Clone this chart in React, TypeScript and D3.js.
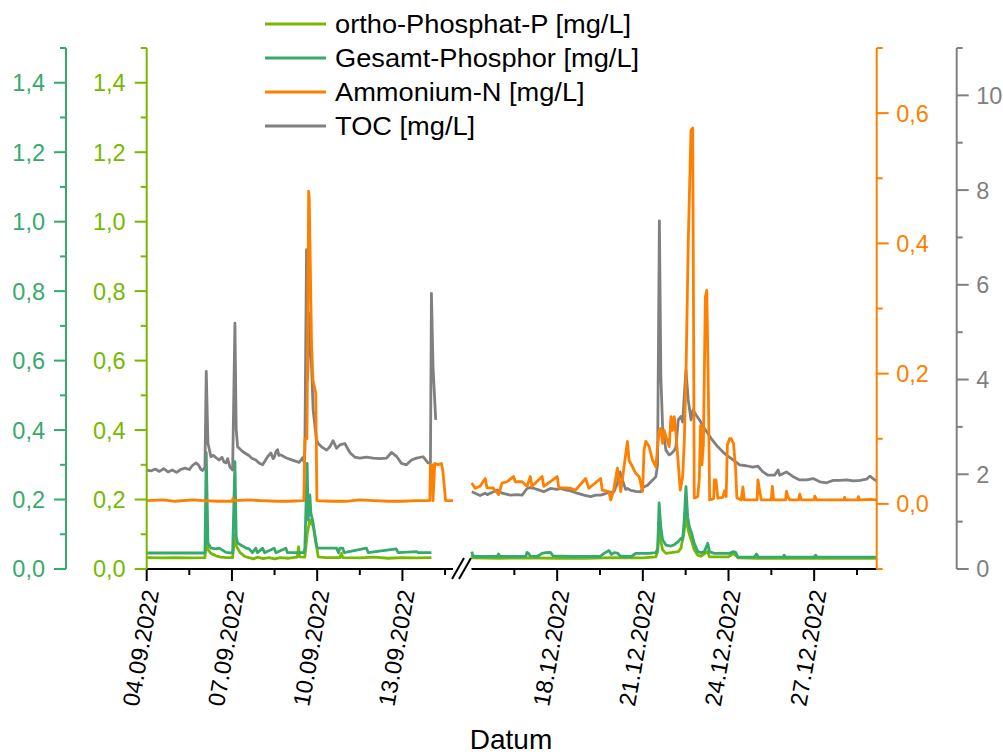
import React from "react";
import * as d3 from "d3";

// ---- Data (time = fractional day of month, 2022) ----
type P = [number, number];

const seriesNames = [
  "ortho-Phosphat-P [mg/L]",
  "Gesamt-Phosphor [mg/L]",
  "Ammonium-N [mg/L]",
  "TOC [mg/L]",
];
const seriesColors = ["#76b900", "#36aa6c", "#ff7f00", "#808080"];

// segment 1: September, segment 2: December
const segSep: P = [4.0, 14.78];
const segDec: P = [15.0, 29.19];
const majorSep = [4, 7, 10, 13];
const minorSep = [5.5, 8.5, 11.5, 14.5];
const majorDec = [18, 21, 24, 27];
const minorDec = [16.5, 19.5, 22.5, 25.5, 28.5];

const pTicks = [0, 0.2, 0.4, 0.6, 0.8, 1.0, 1.2, 1.4];
const pMinor = [0.1, 0.3, 0.5, 0.7, 0.9, 1.1, 1.3, 1.5];
const nTicks = [0, 0.2, 0.4, 0.6];
const nMinor = [-0.1, 0.1, 0.3, 0.5, 0.7];
const tTicks = [0, 2, 4, 6, 8, 10];
const tMinor = [1, 3, 5, 7, 9, 11];

const orthoSep: P[] = [[4.0,0.033],[4.5,0.032],[5.0,0.033],[5.5,0.032],[6.05,0.033],[6.096,0.09],[6.155,0.056],[6.26,0.045],[6.44,0.038],[6.6,0.034],[6.8,0.033],[7.024,0.033],[7.105,0.1],[7.16,0.065],[7.28,0.048],[7.45,0.036],[7.6,0.033],[7.75,0.029],[7.9,0.034],[8.1,0.03],[8.3,0.033],[8.5,0.029],[8.7,0.033],[9.0,0.031],[9.3,0.034],[9.345,0.064],[9.38,0.035],[9.566,0.034],[9.647,0.1],[9.742,0.141],[9.8,0.13],[9.858,0.125],[9.94,0.09],[10.034,0.035],[10.3,0.033],[10.8,0.033],[10.85,0.045],[10.9,0.033],[11.5,0.032],[12.0,0.034],[12.5,0.031],[13.0,0.033],[13.5,0.032],[14.021,0.033]];

const tealSep: P[] = [[4.0,0.046],[5.0,0.046],[6.05,0.046],[6.096,0.335],[6.155,0.075],[6.26,0.06],[6.437,0.058],[6.553,0.06],[6.65,0.055],[6.79,0.048],[7.024,0.046],[7.105,0.309],[7.15,0.093],[7.2,0.075],[7.375,0.066],[7.5,0.06],[7.608,0.058],[7.72,0.047],[7.84,0.06],[7.9,0.047],[8.08,0.06],[8.15,0.047],[8.487,0.06],[8.55,0.047],[8.898,0.06],[8.95,0.047],[9.531,0.047],[9.566,0.06],[9.647,0.304],[9.682,0.141],[9.742,0.213],[9.78,0.16],[9.858,0.132],[9.918,0.093],[9.977,0.064],[10.034,0.06],[10.68,0.06],[10.75,0.047],[10.8,0.06],[10.9,0.06],[10.95,0.047],[11.736,0.06],[11.8,0.047],[12.78,0.058],[12.85,0.047],[13.5,0.05],[13.55,0.047],[14.021,0.047]];

const nh4Sep: P[] = [[4.0,0.005],[4.6,0.006],[5.0,0.004],[5.6,0.006],[6.0,0.005],[6.5,0.004],[7.0,0.004],[7.034,0.008],[7.1,0.005],[7.6,0.006],[8.0,0.005],[8.6,0.004],[9.0,0.004],[9.531,0.005],[9.57,0.1],[9.64,0.1],[9.7,0.48],[9.72,0.47],[9.8,0.25],[9.85,0.19],[9.95,0.17],[9.99,0.005],[10.5,0.004],[11.0,0.004],[11.5,0.006],[12.0,0.005],[12.5,0.004],[13.0,0.004],[13.5,0.005],[13.965,0.005],[13.985,0.06],[14.05,0.06],[14.077,0.005],[14.137,0.062],[14.25,0.06],[14.373,0.062],[14.42,0.052],[14.52,0.005],[14.78,0.005]];

const tocSep: P[] = [[4.0,2.09],[4.15,2.07],[4.3,2.11],[4.45,2.06],[4.6,2.12],[4.75,2.05],[4.9,2.09],[5.05,2.04],[5.2,2.1],[5.35,2.13],[5.5,2.1],[5.6,2.18],[5.733,2.24],[5.82,2.2],[5.91,2.1],[5.97,2.08],[6.05,2.15],[6.096,4.17],[6.155,2.66],[6.26,2.37],[6.35,2.4],[6.437,2.35],[6.553,2.3],[6.65,2.36],[6.72,2.26],[6.79,2.24],[6.85,2.33],[6.93,2.15],[6.964,2.13],[7.024,2.09],[7.105,5.19],[7.15,2.95],[7.2,2.58],[7.375,2.48],[7.608,2.39],[7.7,2.34],[7.84,2.3],[7.95,2.24],[8.08,2.2],[8.255,2.37],[8.37,2.45],[8.45,2.33],[8.487,2.35],[8.55,2.48],[8.606,2.52],[8.65,2.4],[8.722,2.41],[8.898,2.35],[9.13,2.3],[9.366,2.25],[9.485,2.35],[9.531,2.27],[9.566,2.5],[9.626,6.74],[9.66,3.99],[9.742,5.4],[9.8,4.3],[9.858,3.36],[9.977,2.72],[10.034,2.65],[10.153,2.58],[10.33,2.51],[10.445,2.58],[10.56,2.71],[10.68,2.55],[10.797,2.62],[10.973,2.65],[11.149,2.46],[11.325,2.36],[11.5,2.34],[11.736,2.36],[11.968,2.34],[12.204,2.33],[12.44,2.34],[12.615,2.46],[12.79,2.38],[12.966,2.23],[13.142,2.2],[13.318,2.3],[13.494,2.34],[13.726,2.37],[13.9,2.24],[13.986,2.24],[14.021,5.82],[14.077,4.27],[14.172,3.15]];

const orthoDec: P[] = [[15.01,0.04],[15.05,0.032],[16.0,0.031],[17.0,0.032],[18.0,0.031],[19.0,0.031],[20.0,0.033],[21.0,0.032],[21.456,0.035],[21.52,0.05],[21.57,0.13],[21.63,0.08],[21.692,0.055],[21.808,0.045],[22.24,0.05],[22.335,0.06],[22.45,0.11],[22.51,0.16],[22.57,0.12],[22.627,0.1],[22.71,0.08],[22.8,0.055],[22.923,0.04],[23.04,0.037],[23.27,0.05],[23.33,0.035],[24.0,0.035],[24.174,0.045],[24.33,0.032],[25.0,0.031],[27.0,0.031],[29.19,0.031]];

const tealDec: P[] = [[15.01,0.05],[15.05,0.038],[15.13,0.036],[15.5,0.036],[15.9,0.036],[15.947,0.043],[16.0,0.036],[16.9,0.036],[16.945,0.048],[17.0,0.045],[17.06,0.037],[17.3,0.036],[17.473,0.045],[17.6,0.047],[17.764,0.048],[17.85,0.038],[18.5,0.036],[19.0,0.036],[19.5,0.036],[19.64,0.045],[19.814,0.053],[19.9,0.042],[20.0,0.047],[20.11,0.046],[20.2,0.038],[20.4,0.036],[20.6,0.036],[20.75,0.045],[20.9,0.045],[21.2,0.045],[21.456,0.047],[21.52,0.06],[21.57,0.19],[21.63,0.12],[21.692,0.084],[21.808,0.069],[21.984,0.066],[22.1,0.07],[22.24,0.079],[22.335,0.088],[22.395,0.085],[22.45,0.141],[22.51,0.237],[22.57,0.15],[22.627,0.122],[22.71,0.103],[22.8,0.074],[22.923,0.05],[23.04,0.047],[23.155,0.05],[23.274,0.074],[23.33,0.05],[23.5,0.045],[23.8,0.045],[24.034,0.045],[24.174,0.05],[24.25,0.048],[24.33,0.034],[24.6,0.034],[24.9,0.034],[24.98,0.043],[25.05,0.034],[25.9,0.034],[25.95,0.04],[26.0,0.034],[27.0,0.034],[27.05,0.04],[27.1,0.034],[29.19,0.034]];

const nh4Dec: P[] = [[15.01,0.032],[15.127,0.024],[15.3,0.027],[15.48,0.039],[15.54,0.025],[15.77,0.024],[15.947,0.014],[16.066,0.032],[16.24,0.034],[16.474,0.042],[16.534,0.034],[16.77,0.034],[16.945,0.027],[17.06,0.042],[17.12,0.027],[17.473,0.042],[17.53,0.027],[18.0,0.042],[18.056,0.025],[18.468,0.024],[18.643,0.021],[18.995,0.039],[19.11,0.024],[19.522,0.039],[19.58,0.021],[19.814,0.019],[19.874,0.006],[19.97,0.019],[20.11,0.055],[20.226,0.019],[20.46,0.096],[20.518,0.067],[20.637,0.057],[20.753,0.047],[20.87,0.042],[20.989,0.019],[21.045,0.083],[21.105,0.096],[21.22,0.088],[21.34,0.067],[21.456,0.057],[21.57,0.113],[21.632,0.116],[21.692,0.093],[21.748,0.113],[21.808,0.103],[21.924,0.088],[21.984,0.134],[22.04,0.113],[22.1,0.134],[22.16,0.108],[22.24,0.062],[22.31,0.021],[22.395,0.042],[22.45,0.093],[22.51,0.195],[22.59,0.4],[22.687,0.574],[22.747,0.577],[22.78,0.247],[22.8,0.009],[22.923,0.011],[22.98,0.04],[23.02,0.12],[23.07,0.06],[23.12,0.09],[23.19,0.318],[23.24,0.328],[23.296,0.17],[23.34,0.006],[23.48,0.008],[23.506,0.037],[23.56,0.037],[23.626,0.009],[23.8,0.01],[23.86,0.02],[23.918,0.011],[23.96,0.09],[24.034,0.1],[24.094,0.1],[24.174,0.093],[24.245,0.057],[24.294,0.009],[24.445,0.006],[24.505,0.026],[24.55,0.006],[25.0,0.006],[25.03,0.037],[25.09,0.02],[25.148,0.006],[25.5,0.006],[25.535,0.027],[25.58,0.006],[26.0,0.006],[26.028,0.019],[26.09,0.01],[26.15,0.006],[26.46,0.006],[26.495,0.015],[26.55,0.006],[27.0,0.006],[27.023,0.012],[27.09,0.006],[28.03,0.006],[28.067,0.01],[28.1,0.006],[28.52,0.006],[28.548,0.011],[28.58,0.006],[28.956,0.007],[29.19,0.006]];

const tocDec: P[] = [[15.01,1.63],[15.13,1.6],[15.3,1.55],[15.48,1.6],[15.55,1.57],[15.77,1.63],[15.9,1.67],[16.07,1.6],[16.36,1.56],[16.6,1.57],[16.77,1.56],[16.945,1.7],[17.06,1.72],[17.2,1.7],[17.35,1.67],[17.53,1.63],[17.764,1.7],[18.0,1.68],[18.12,1.7],[18.29,1.67],[18.47,1.65],[18.7,1.6],[18.935,1.56],[19.17,1.53],[19.35,1.56],[19.522,1.56],[19.64,1.58],[19.814,1.62],[19.99,1.63],[20.11,1.81],[20.2,2.05],[20.27,1.9],[20.4,1.68],[20.46,1.7],[20.577,1.66],[20.753,1.64],[20.93,1.63],[21.0,1.72],[21.165,1.77],[21.28,1.84],[21.397,1.91],[21.456,1.95],[21.516,2.2],[21.55,5.0],[21.58,7.35],[21.632,4.06],[21.692,3.0],[21.808,2.51],[21.924,2.41],[21.984,2.43],[22.1,2.5],[22.16,2.58],[22.24,3.15],[22.335,3.22],[22.395,3.1],[22.45,3.64],[22.51,4.2],[22.59,3.57],[22.687,3.15],[22.757,3.36],[22.863,3.25],[22.98,3.15],[23.155,2.97],[23.39,2.76],[23.626,2.58],[23.858,2.44],[23.918,2.41],[24.174,2.3],[24.386,2.2],[24.62,2.18],[24.856,2.15],[25.03,2.17],[25.207,2.05],[25.384,1.98],[25.616,1.98],[25.736,2.09],[25.79,1.98],[26.028,2.05],[26.263,1.95],[26.495,1.88],[26.73,1.88],[26.966,1.91],[27.2,1.84],[27.434,1.82],[27.67,1.87],[27.9,1.87],[28.137,1.88],[28.373,1.86],[28.605,1.87],[28.84,1.9],[28.956,1.96],[29.076,1.9],[29.19,1.86]];

// ---- helpers ----
const toDate = (month: number, d: number) =>
  new Date(Date.UTC(2022, month, 1) + (d - 1) * 864e5);
const fmtComma = (v: number) => d3.format(".1f")(v).replace(".", ",");
const fmtDate = d3.utcFormat("%d.%m.%Y");

const FONT = "'Liberation Sans', Arial, Helvetica, sans-serif";
const TOP = 48;
const BOTTOM = 569;
const AX_P2 = 66;
const AX_P1 = 146.7;
const AX_N = 876.7;
const AX_T = 956.7;

export default function App() {
  const xSep = d3.scaleUtc().domain([toDate(8, segSep[0]), toDate(8, segSep[1])]).range([AX_P1, 453]);
  const xDec = d3.scaleUtc().domain([toDate(11, segDec[0]), toDate(11, segDec[1])]).range([471.5, AX_N]);
  const yP = d3.scaleLinear().domain([0, 1.5]).range([BOTTOM, TOP]);
  const yN = d3.scaleLinear().domain([-0.1, 0.7]).range([BOTTOM, TOP]);
  const yT = d3.scaleLinear().domain([0, 11]).range([BOTTOM, TOP]);

  const mkLine = (month: number, x: d3.ScaleTime<number, number>, y: d3.ScaleLinear<number, number>) =>
    d3.line<P>().x((d) => x(toDate(month, d[0]))).y((d) => y(d[1]));

  const series = [
    { c: seriesColors[0], y: yP, sep: orthoSep, dec: orthoDec },
    { c: seriesColors[1], y: yP, sep: tealSep, dec: tealDec },
    { c: seriesColors[3], y: yT, sep: tocSep, dec: tocDec },
    { c: seriesColors[2], y: yN, sep: nh4Sep, dec: nh4Dec },
  ];

  const MAJ = 12;
  const MIN = 6;
  const FS = 23.5;

  const leftAxis = (x: number, color: string) => (
    <g>
      <line x1={x} x2={x} y1={TOP} y2={BOTTOM} stroke={color} strokeWidth={2} />
      {pTicks.map((t) => (
        <g key={"M" + t}>
          <line x1={x - MAJ} x2={x} y1={yP(t)} y2={yP(t)} stroke={color} strokeWidth={2} />
          <text x={x - 21} y={yP(t)} dy="0.36em" textAnchor="end" fill={color} fontSize={FS} fontFamily={FONT}>
            {fmtComma(t)}
          </text>
        </g>
      ))}
      {pMinor.map((t) => (
        <line key={"m" + t} x1={x - MIN} x2={x} y1={yP(t)} y2={yP(t)} stroke={color} strokeWidth={2} />
      ))}
    </g>
  );

  const rightAxis = (x: number, color: string, y: d3.ScaleLinear<number, number>, maj: number[], min: number[], fmt: (v: number) => string) => (
    <g>
      <line x1={x} x2={x} y1={TOP} y2={BOTTOM} stroke={color} strokeWidth={2} />
      {maj.map((t) => (
        <g key={"M" + t}>
          <line x1={x} x2={x + MAJ} y1={y(t)} y2={y(t)} stroke={color} strokeWidth={2} />
          <text x={x + 19.5} y={y(t)} dy="0.36em" textAnchor="start" fill={color} fontSize={FS} fontFamily={FONT}>
            {fmt(t)}
          </text>
        </g>
      ))}
      {min.map((t) => (
        <line key={"m" + t} x1={x} x2={x + MIN} y1={y(t)} y2={y(t)} stroke={color} strokeWidth={2} />
      ))}
    </g>
  );

  const xTicks = (month: number, x: d3.ScaleTime<number, number>, maj: number[], min: number[]) => (
    <g>
      {maj.map((d) => {
        const px = x(toDate(month, d));
        return (
          <g key={"M" + d}>
            <line x1={px} x2={px} y1={BOTTOM} y2={BOTTOM + MAJ} stroke="#000" strokeWidth={2} />
            <text
              transform={`translate(${px + 4},${BOTTOM + 21}) rotate(-80)`}
              textAnchor="end"
              dy="0.36em"
              fontSize={FS}
              fontFamily={FONT}
              fill="#000"
            >
              {fmtDate(toDate(month, d))}
            </text>
          </g>
        );
      })}
      {min.map((d) => {
        const px = x(toDate(month, d));
        return <line key={"m" + d} x1={px} x2={px} y1={BOTTOM} y2={BOTTOM + MIN} stroke="#000" strokeWidth={2} />;
      })}
    </g>
  );

  const legendY = [24, 58, 92, 126];
  const legendOrder = [0, 1, 2, 3];

  return (
    <svg width={1003} height={755} style={{ position: "absolute", left: 0, top: 0, background: "#fff" }}>
      <rect x={0} y={0} width={1003} height={755} fill="#fff" />
      {/* data */}
      {series.map((s, i) => (
        <g key={i} fill="none" stroke={s.c} strokeWidth={2.8} strokeLinejoin="round">
          <path d={mkLine(8, xSep, s.y)(s.sep) || ""} />
          <path d={mkLine(11, xDec, s.y)(s.dec) || ""} />
        </g>
      ))}
      {/* x axis */}
      <line x1={AX_P1} x2={453} y1={BOTTOM} y2={BOTTOM} stroke="#000" strokeWidth={2} />
      <line x1={471.5} x2={AX_N} y1={BOTTOM} y2={BOTTOM} stroke="#000" strokeWidth={2} />
      <line x1={452} x2={464} y1={579} y2={558} stroke="#000" strokeWidth={2} />
      <line x1={459} x2={471} y1={579} y2={558} stroke="#000" strokeWidth={2} />
      {xTicks(8, xSep, majorSep, minorSep)}
      {xTicks(11, xDec, majorDec, minorDec)}
      <text x={511} y={749} textAnchor="middle" fontSize={28} fontFamily={FONT} fill="#000">
        Datum
      </text>
      {/* y axes */}
      {leftAxis(AX_P2, seriesColors[1])}
      {leftAxis(AX_P1, seriesColors[0])}
      {rightAxis(AX_N, seriesColors[2], yN, nTicks, nMinor, fmtComma)}
      {rightAxis(AX_T, seriesColors[3], yT, tTicks, tMinor, (v) => String(v))}
      {/* legend */}
      {legendOrder.map((i) => (
        <g key={"lg" + i}>
          <line x1={265} x2={326} y1={legendY[i]} y2={legendY[i]} stroke={seriesColors[i]} strokeWidth={2.8} />
          <text x={335} y={legendY[i]} dy="0.36em" fontSize={25} fontFamily={FONT} fill="#000"
            transform={`translate(${335},0) scale(1.09,1) translate(${-335},0)`}>
            {seriesNames[i]}
          </text>
        </g>
      ))}
    </svg>
  );
}
